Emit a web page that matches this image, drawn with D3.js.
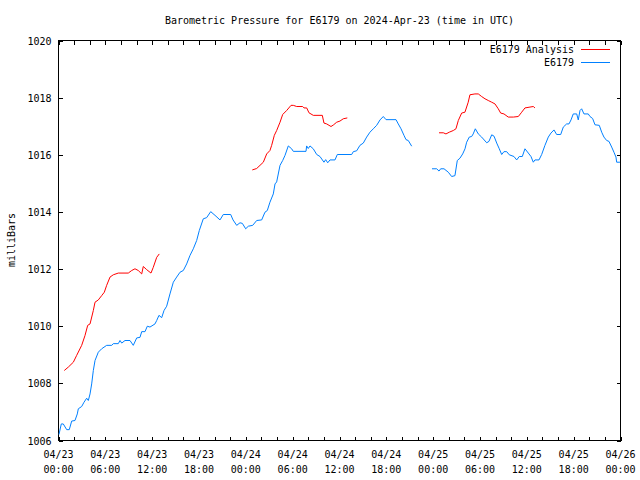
<!DOCTYPE html>
<html>
<head>
<meta charset="utf-8">
<script src="https://cdn.jsdelivr.net/npm/d3@7"></script>
<style>
  html, body { margin: 0; padding: 0; background: #fff; }
  svg { display: block; }
  text { font-family: "DejaVu Sans Mono", "Liberation Mono", monospace; font-size: 10px; fill: #000; }
</style>
</head>
<body>
<svg id="chart" width="640" height="480"></svg>
<script>
// ---- data (hours since 2024-04-23 00:00 UTC, pressure in mb; null = gap) ----
const titleText = "Barometric Pressure for E6179 on 2024-Apr-23 (time in UTC)";
const yLabel = "milliBars";
const seriesNames = ["E6179 Analysis", "E6179"];
const yTicks = [1006, 1008, 1010, 1012, 1014, 1016, 1018, 1020];
const xLabelHours = [0, 6, 12, 18, 24, 30, 36, 42, 48, 54, 60, 66, 72];

const analysisHours = [
  0.74, 1.26, 1.90, 2.33, 2.97, 3.39, 3.74, 4.04, 4.46, 4.68, 5.10, 5.53, 5.87, 6.17, 6.60, 7.02, 7.66, 8.94,
  9.38, 9.80, 10.22, 10.66, 10.86, 11.30, 11.85, 12.14, 12.58, 12.91,
  18.0,
  24.83, 25.39, 26.24, 26.67, 27.09, 27.31, 27.65, 27.95, 28.38, 28.72, 29.23, 29.79, 30.08, 30.52, 31.28,
  31.45, 31.80, 32.09, 32.64, 33.80, 34.01, 34.36, 34.91, 35.20, 35.64, 36.06, 36.48, 37.00,
  42.0,
  48.75, 49.30, 49.64, 50.06, 50.58, 50.92, 51.22, 51.65, 52.07, 52.49, 52.71, 53.35, 53.78, 54.21, 54.64,
  55.06, 55.50, 55.92, 56.34, 56.65, 57.07, 57.62, 58.27, 58.91, 59.34, 59.76, 60.40, 60.83, 61.04
];
const analysisValues = [
  1008.45, 1008.57, 1008.74, 1008.98, 1009.33, 1009.67, 1010.03, 1010.08, 1010.55, 1010.84, 1010.92, 1011.07,
  1011.19, 1011.43, 1011.72, 1011.80, 1011.86, 1011.86, 1011.95, 1012.01, 1011.95, 1011.83, 1012.09, 1011.98,
  1011.86, 1012.06, 1012.41, 1012.53,
  null,
  1015.47, 1015.52, 1015.74, 1016.03, 1016.15, 1016.33, 1016.68, 1016.85, 1017.14, 1017.41, 1017.55, 1017.73,
  1017.73, 1017.69, 1017.69, 1017.64, 1017.64, 1017.47, 1017.38, 1017.38, 1017.11, 1017.08, 1016.99, 1017.04,
  1017.14, 1017.18, 1017.26, 1017.29,
  null,
  1016.77, 1016.77, 1016.73, 1016.79, 1016.85, 1016.91, 1017.20, 1017.46, 1017.49, 1017.84, 1018.10, 1018.13,
  1018.13, 1018.04, 1017.96, 1017.90, 1017.84, 1017.78, 1017.61, 1017.46, 1017.43, 1017.32, 1017.32, 1017.34,
  1017.49, 1017.64, 1017.67, 1017.69, 1017.64
];

const stationHours = [
  0.06, 0.36, 0.61, 1.05, 1.38, 1.69, 2.11, 2.41, 2.54, 2.97, 3.27, 3.61, 3.82, 4.04, 4.25, 4.46, 4.68, 5.10,
  5.53, 6.17, 6.82, 7.02, 7.66, 7.88, 8.10, 8.52, 9.16, 9.58, 10.02, 10.44, 10.66, 11.08, 11.38, 11.72, 12.36,
  12.58, 12.87, 13.22, 13.52, 13.86, 14.28, 14.71, 15.14, 15.57, 15.99, 16.42, 16.85, 17.27, 17.70, 18.04,
  18.55, 18.98, 19.50, 20.05, 20.69, 21.11, 22.06, 22.36, 22.83, 23.25, 23.55, 23.98, 24.32, 24.88, 25.39,
  26.03, 26.45, 26.75, 27.09, 27.52, 27.74, 27.95, 28.38, 28.72, 29.02, 29.44, 29.87, 30.08, 31.71, 31.79,
  32.00, 32.22, 32.64, 33.08, 33.50, 34.01, 34.23, 34.49, 34.78, 35.42, 35.72, 37.56, 37.77, 38.20, 38.62,
  39.05, 39.48, 39.90, 40.33, 40.76, 41.19, 41.61, 41.96, 43.24, 43.53, 43.88, 44.26, 44.52, 44.81, 45.25,
  46.5,
  47.85, 48.45, 48.75, 48.96, 49.39, 49.94, 50.37, 50.79, 51.09, 51.43, 51.78, 52.08, 52.29, 52.63, 52.93,
  53.13, 53.40, 53.78, 54.21, 54.86, 55.15, 55.50, 55.80, 56.14, 56.47, 56.78, 57.07, 57.42, 57.75, 58.35,
  58.70, 59.03, 59.42, 59.76, 60.19, 60.53, 60.83, 61.04, 61.56, 61.90, 62.32, 62.75, 63.09, 63.48, 63.82,
  64.34, 64.67, 65.10, 65.40, 65.66, 65.95, 66.39, 66.59, 66.81, 67.02, 67.32, 67.87, 68.09, 68.43, 68.73,
  69.28, 69.59, 69.88, 70.23, 70.52, 70.87, 71.16, 71.42, 71.51, 71.93
];
const stationValues = [
  1006.21, 1006.58, 1006.58, 1006.38, 1006.38, 1006.68, 1006.70, 1006.93, 1007.11, 1007.19, 1007.34, 1007.48,
  1007.40, 1007.63, 1007.98, 1008.45, 1008.80, 1009.09, 1009.21, 1009.33, 1009.33, 1009.39, 1009.39, 1009.50,
  1009.41, 1009.50, 1009.50, 1009.33, 1009.59, 1009.61, 1009.81, 1009.81, 1010.00, 1009.97, 1010.08, 1010.20,
  1010.38, 1010.30, 1010.55, 1010.70, 1011.13, 1011.54, 1011.72, 1011.89, 1011.95, 1012.18, 1012.48, 1012.71,
  1013.00, 1013.35, 1013.76, 1013.80, 1014.01, 1013.88, 1013.72, 1013.91, 1013.91, 1013.72, 1013.53, 1013.62,
  1013.60, 1013.41, 1013.50, 1013.53, 1013.70, 1013.72, 1013.99, 1014.05, 1014.34, 1014.63, 1014.98, 1015.05,
  1015.63, 1015.80, 1015.98, 1016.31, 1016.21, 1016.12, 1016.12, 1016.31, 1016.22, 1016.31, 1016.21, 1016.01,
  1015.94, 1015.74, 1015.83, 1015.72, 1015.82, 1015.82, 1016.01, 1016.01, 1016.11, 1016.14, 1016.33, 1016.41,
  1016.62, 1016.79, 1016.91, 1017.03, 1017.22, 1017.34, 1017.23, 1017.23, 1017.08, 1016.91, 1016.68, 1016.53,
  1016.50, 1016.30,
  null,
  1015.51, 1015.51, 1015.43, 1015.51, 1015.51, 1015.39, 1015.24, 1015.27, 1015.80, 1015.88, 1016.03, 1016.21,
  1016.44, 1016.62, 1016.64, 1016.73, 1016.91, 1016.73, 1016.62, 1016.42, 1016.47, 1016.70, 1016.65, 1016.41,
  1016.21, 1016.01, 1016.11, 1016.11, 1016.00, 1015.94, 1015.82, 1015.94, 1015.94, 1016.21, 1016.06, 1015.94,
  1015.74, 1015.82, 1015.82, 1016.01, 1016.33, 1016.62, 1016.76, 1016.87, 1016.71, 1016.71, 1016.97, 1017.08,
  1017.08, 1017.22, 1017.43, 1017.43, 1017.22, 1017.55, 1017.61, 1017.43, 1017.43, 1017.34, 1017.27, 1017.05,
  1017.03, 1016.79, 1016.62, 1016.50, 1016.47, 1016.27, 1016.09, 1015.92, 1015.74, 1015.74
];

// ---- drawing ----
(function () {
const svg = d3.select("#chart");
const W = 640, H = 480;
const mLeft = 58.5, mRight = 620.5, mTop = 40.5, mBottom = 440.5;
const t0 = Date.UTC(2024, 3, 23, 0, 0);
const hourToDate = h => new Date(t0 + h * 3600 * 1000);

const x = d3.scaleUtc()
  .domain([hourToDate(0), hourToDate(72)])
  .range([mLeft, mRight]);
const y = d3.scaleLinear().domain([1006, 1020]).range([mBottom, mTop]);

svg.append("rect").attr("width", W).attr("height", H).attr("fill", "#fff");

const tickTimes = d3.utcHour.every(2).range(hourToDate(0), hourToDate(72.01));
const labelSet = new Set(xLabelHours.map(h => +hourToDate(h)));
const fmtDate = d3.utcFormat("%m/%d");
const fmtTime = d3.utcFormat("%H:%M");

const gx = svg.append("g").attr("transform", `translate(0,${mBottom})`)
  .call(d3.axisBottom(x).tickValues(tickTimes).tickSizeInner(-4).tickSizeOuter(0).tickFormat(() => ""));
const gxt = svg.append("g").attr("transform", `translate(0,${mTop})`)
  .call(d3.axisTop(x).tickValues(tickTimes).tickSizeInner(-4).tickSizeOuter(0).tickFormat(() => ""));
const gy = svg.append("g").attr("transform", `translate(${mLeft},0)`)
  .call(d3.axisLeft(y).tickValues(yTicks).tickSizeInner(-4).tickSizeOuter(0).tickPadding(7).tickFormat(d3.format("d")));
const gyr = svg.append("g").attr("transform", `translate(${mRight},0)`)
  .call(d3.axisRight(y).tickValues(yTicks).tickSizeInner(-4).tickSizeOuter(0).tickFormat(() => ""));

[gx, gxt, gy, gyr].forEach(g => {
  g.select(".domain").remove();
  g.selectAll("line").attr("stroke", "#000").attr("shape-rendering", "crispEdges");
  g.attr("font-family", null).attr("font-size", null);
});
gy.selectAll("text").attr("dy", "0.35em");

const lbl = svg.append("g");
tickTimes.filter(d => labelSet.has(+d)).forEach(d => {
  const t = lbl.append("text").attr("x", x(d)).attr("text-anchor", "middle");
  t.append("tspan").attr("x", x(d)).attr("y", 458).text(fmtDate(d));
  t.append("tspan").attr("x", x(d)).attr("y", 473).text(fmtTime(d));
});

svg.append("rect")
  .attr("x", mLeft).attr("y", mTop).attr("width", mRight - mLeft).attr("height", mBottom - mTop)
  .attr("fill", "none").attr("stroke", "#000").attr("shape-rendering", "crispEdges");

const line = d3.line()
  .defined(d => d[1] !== null)
  .x(d => x(hourToDate(d[0])))
  .y(d => y(d[1]));

const analysis = analysisHours.map((h, i) => [h, analysisValues[i]]);
const station = stationHours.map((h, i) => [h, stationValues[i]]);

svg.append("path").datum(station).attr("d", line)
  .attr("fill", "none").attr("stroke", "#0080ff").attr("stroke-width", 1);
svg.append("path").datum(analysis).attr("d", line)
  .attr("fill", "none").attr("stroke", "#ff0000").attr("stroke-width", 1);

svg.append("text").attr("x", 339.5).attr("y", 24).attr("text-anchor", "middle").text(titleText);

svg.append("text")
  .attr("transform", "translate(15,240) rotate(-90)")
  .attr("text-anchor", "middle").text(yLabel);

const legColors = ["#ff0000", "#0080ff"];
seriesNames.forEach((name, i) => {
  const ly = 49 + i * 13;
  svg.append("text").attr("x", 574).attr("y", ly).attr("dy", "0.35em")
    .attr("text-anchor", "end").text(name);
  svg.append("line").attr("x1", 581).attr("x2", 610).attr("y1", ly + 0.5).attr("y2", ly + 0.5)
    .attr("stroke", legColors[i]).attr("stroke-width", 1).attr("shape-rendering", "crispEdges");
});
})();
</script>
</body>
</html>
